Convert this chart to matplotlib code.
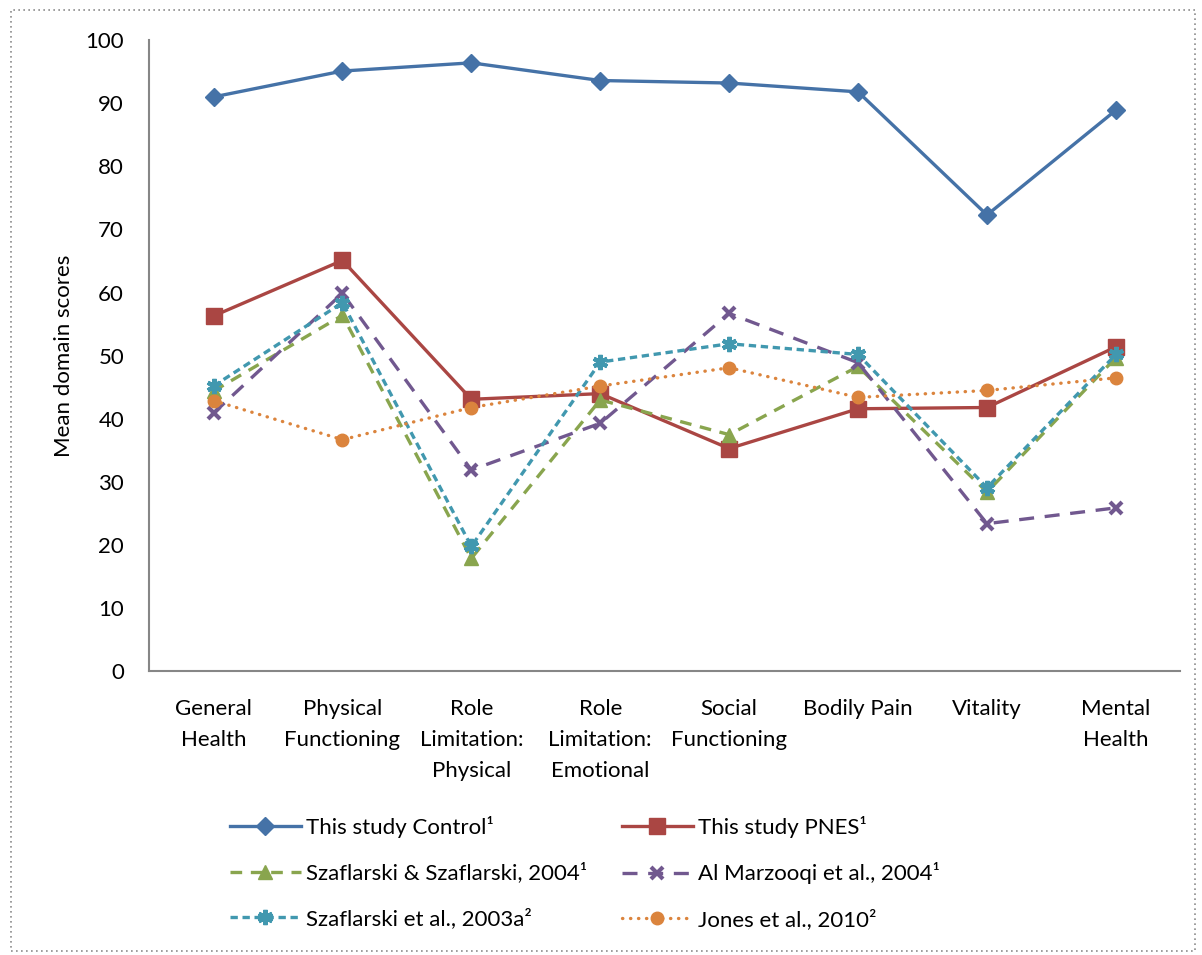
import matplotlib
matplotlib.use("Agg")
import matplotlib.pyplot as plt
from matplotlib.patches import Rectangle

plt.rcParams['font.family'] = ['Lato', 'DejaVu Sans']

domains = ["General\nHealth", "Physical\nFunctioning", "Role\nLimitation:\nPhysical",
           "Role\nLimitation:\nEmotional", "Social\nFunctioning", "Bodily Pain",
           "Vitality", "Mental\nHealth"]

control = [91.0, 95.1, 96.4, 93.6, 93.2, 91.8, 72.3, 88.9]
pnes = [56.3, 65.1, 43.1, 44.0, 35.3, 41.6, 41.8, 51.4]
szaf_2004 = [44.4, 56.4, 17.9, 43.0, 37.5, 48.3, 28.4, 49.7]
al_marzooqi = [40.9, 59.9, 31.9, 39.3, 56.7, 48.9, 23.4, 25.9]
szaf_2003a = [45.2, 58.4, 19.8, 49.0, 51.9, 50.2, 29.1, 50.2]
jones = [42.9, 36.7, 41.8, 45.2, 48.1, 43.4, 44.5, 46.5]

series = [
    ("This study Control\u00b9", control, "#4572A7", "D", "-", 9),
    ("This study PNES\u00b9", pnes, "#AA4643", "s", "-", 11),
    ("Szaflarski & Szaflarski, 2004\u00b9", szaf_2004, "#89A54E", "^", (0, (3.5, 2.6)), 10),
    ("Al Marzooqi et al., 2004\u00b9", al_marzooqi, "#71588F", "x", (0, (4.5, 3.2)), 9),
    ("Szaflarski et al., 2003a\u00b2", szaf_2003a, "#4198AF", (6, 2, 0), (0, (2.2, 1.4)), 11),
    ("Jones et al., 2010\u00b2", jones, "#DB843D", "o", (0, (0.1, 2.3)), 9),
]

fig = plt.figure(figsize=(12.02, 9.55), dpi=100)
ax = fig.add_axes([0.124, 0.297, 0.858, 0.661])

x = list(range(len(domains)))
lines = []
for label, vals, col, mk, ls, ms in series:
    kw = dict(color=col, lw=2.4, linestyle=ls, marker=mk, markersize=ms,
              markerfacecolor=col, markeredgecolor=col, label=label)
    if mk in ("x",) or isinstance(mk, tuple):
        kw["markeredgewidth"] = 3
    else:
        kw["markeredgewidth"] = 1
    line, = ax.plot(x, vals, **kw)
    if ls == (0, (0.1, 2.3)):
        line.set_dash_capstyle("round")
    lines.append(line)

ax.set_xlim(-0.5, len(domains) - 0.5)
ax.set_ylim(0, 100)
ax.set_yticks(range(0, 101, 10))
ax.set_xticks(x)
ax.set_xticklabels(domains, fontsize=16, linespacing=1.68)
ax.tick_params(axis="y", labelsize=16, length=0, pad=18)
ax.tick_params(axis="x", length=0, pad=20)
for side in ("top", "right"):
    ax.spines[side].set_visible(False)
for side in ("left", "bottom"):
    ax.spines[side].set_color("#868686")
    ax.spines[side].set_linewidth(1.5)
ax.set_ylabel("Mean domain scores", fontsize=16, labelpad=8)

# legend reads row by row, two entries per row
order = [0, 2, 4, 1, 3, 5]
fig.legend([lines[i] for i in order], [lines[i].get_label() for i in order],
           loc="upper left", bbox_to_anchor=(0.191, 0.146), ncol=2,
           frameon=False, fontsize=16, handlelength=3.2, handletextpad=0.25,
           columnspacing=1.55, labelspacing=1.12, borderaxespad=0, borderpad=0)

# dotted frame around the chart area
fig.patches.append(Rectangle((0.009, 0.004), 0.985, 0.986, transform=fig.transFigure,
                             fill=False, edgecolor="#8c8c8c", linestyle=(0, (1, 2)),
                             linewidth=1.2))

fig.savefig("out.png", dpi=100)
